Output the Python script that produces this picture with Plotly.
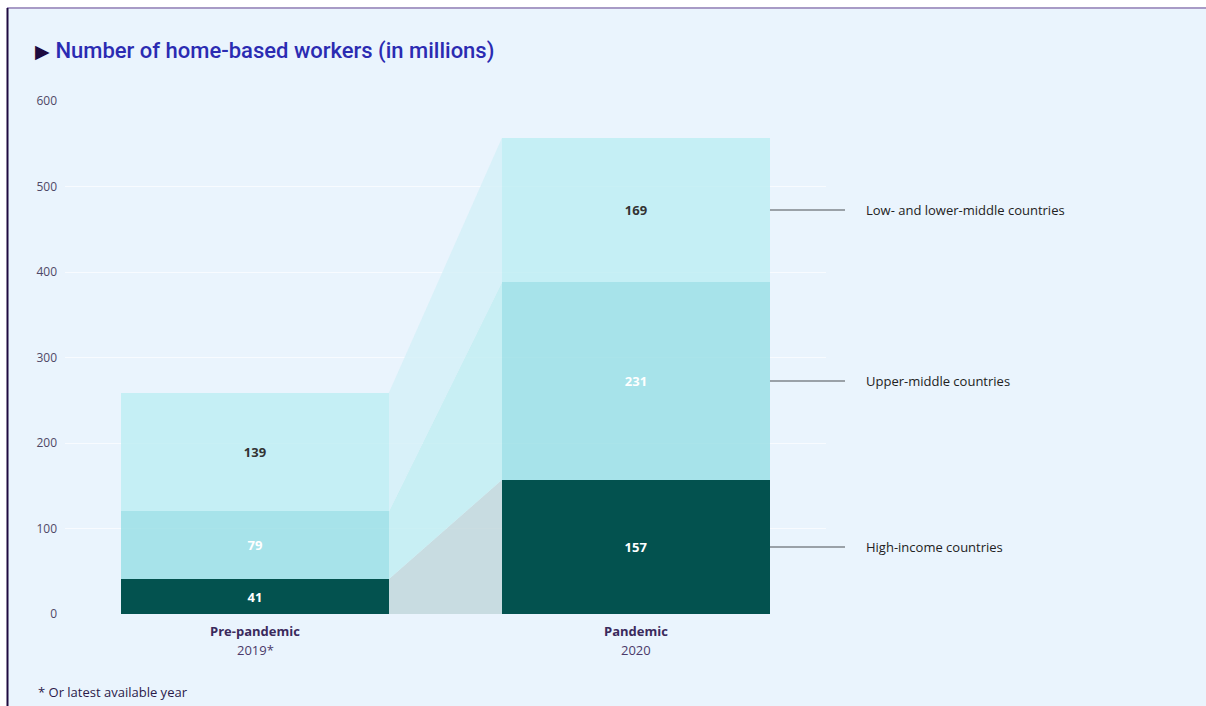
import plotly.graph_objects as go

# Data (millions of home-based workers)
periods = ["Pre-pandemic", "Pandemic"]
period_years = ["2019*", "2020"]
groups = ["High-income countries", "Upper-middle countries", "Low- and lower-middle countries"]
high_income = [41, 157]
upper_middle = [79, 231]
low_lower_middle = [139, 169]
y_ticks = [0, 100, 200, 300, 400, 500, 600]

series = [high_income, upper_middle, low_lower_middle]
bar_colors = ["#03524F", "rgba(150,223,229,0.8)", "rgba(188,238,243,0.8)"]
band_colors = ["rgba(191,214,217,0.8)", "rgba(191,237,241,0.8)", "rgba(211,240,247,0.8)"]
label_colors = ["#FFFFFF", "#FFFFFF", "#333333"]

BG = "#EAF4FD"
W, H = 1206, 706
L, R, T, B = 65, 380, 101, 92
bar_w = 0.7034
x_pos = [0, 1]
x_range = [-0.4987, 1.4987]

fig = go.Figure()

# Connector bands between the two stacked bars
cum_prev = [0, 0]
for vals, col in zip(series, band_colors):
    lo = cum_prev[:]
    hi = [lo[0] + vals[0], lo[1] + vals[1]]
    xa = x_pos[0] + bar_w / 2
    xb = x_pos[1] - bar_w / 2
    fig.add_trace(go.Scatter(
        x=[xa, xb, xb, xa, xa],
        y=[lo[0], lo[1], hi[1], hi[0], lo[0]],
        fill="toself", fillcolor=col, mode="lines",
        line=dict(width=0), hoverinfo="skip", showlegend=False))
    cum_prev = hi

# Stacked bars
for name, vals, col, tc in zip(groups, series, bar_colors, label_colors):
    fig.add_trace(go.Bar(
        x=x_pos, y=vals, name=name, width=bar_w,
        marker=dict(color=col, line=dict(width=0)),
        text=[f"<b>{v}</b>" for v in vals], textposition="inside",
        insidetextanchor="middle", textangle=0,
        textfont=dict(family="Open Sans", size=13, color=tc),
        constraintext="none", hoverinfo="skip", showlegend=False))

plot_w = W - L - R
plot_h = H - T - B


def px_to_paper_x(px):
    return (px - L) / plot_w


def px_to_paper_y(py):
    return (H - B - py) / plot_h


def data_to_paper_x(xv):
    return (xv - x_range[0]) / (x_range[1] - x_range[0])


shapes = [
    # card background with frame lines
    dict(type="rect", xref="paper", yref="paper",
         x0=px_to_paper_x(7), x1=px_to_paper_x(W + 5),
         y0=px_to_paper_y(H + 5), y1=px_to_paper_y(8),
         fillcolor=BG, line=dict(width=0), layer="below"),
    dict(type="line", xref="paper", yref="paper",
         x0=px_to_paper_x(7), x1=px_to_paper_x(W + 5),
         y0=px_to_paper_y(8), y1=px_to_paper_y(8),
         line=dict(color="#A89BC6", width=2), layer="below"),
    dict(type="line", xref="paper", yref="paper",
         x0=px_to_paper_x(7.5), x1=px_to_paper_x(7.5),
         y0=px_to_paper_y(H + 5), y1=px_to_paper_y(8),
         line=dict(color="#1E0A40", width=2), layer="below"),
]

annotations = []
# Leader lines and labels for each group, at the middle of the pandemic segments
cum = 0
bar_right = data_to_paper_x(x_pos[1] + bar_w / 2)
for name, vals in zip(groups, series):
    mid = cum + vals[1] / 2
    cum += vals[1]
    shapes.append(dict(type="line", xref="paper", yref="y",
                       x0=bar_right, x1=px_to_paper_x(845), y0=mid, y1=mid,
                       line=dict(color="#9AA1A8", width=2)))
    annotations.append(dict(xref="paper", yref="y", x=px_to_paper_x(864), y=mid,
                            text=name, showarrow=False, xanchor="left", yanchor="middle",
                            font=dict(family="Open Sans", size=13, color="#222222")))

# Category labels under the bars
for xv, p, yr in zip(x_pos, periods, period_years):
    annotations.append(dict(xref="x", yref="paper", x=xv, y=px_to_paper_y(631),
                            text=f"<b>{p}</b>", showarrow=False, yanchor="middle",
                            font=dict(family="Open Sans", size=13, color="#3A2A5C")))
    annotations.append(dict(xref="x", yref="paper", x=xv, y=px_to_paper_y(650),
                            text=yr, showarrow=False, yanchor="middle",
                            font=dict(family="Open Sans", size=13, color="#4A3A6A")))

# Title
annotations.append(dict(xref="paper", yref="paper", x=px_to_paper_x(33), y=px_to_paper_y(51),
                        text="<span style='color:#1D0B3F;font-size:19px'>▶</span> "
                             "Number of home-based workers (in millions)",
                        showarrow=False, xanchor="left", yanchor="middle",
                        font=dict(family="Roboto", size=22, weight=500, color="#2B2BB2")))
# Footnote
annotations.append(dict(xref="paper", yref="paper", x=px_to_paper_x(36), y=px_to_paper_y(692),
                        text="* Or latest available year", showarrow=False,
                        xanchor="left", yanchor="middle",
                        font=dict(family="Open Sans", size=13, color="#2A1A4A")))

fig.update_layout(
    width=W, height=H,
    margin=dict(l=L, r=R, t=T, b=B, pad=0),
    paper_bgcolor="#FFFFFF", plot_bgcolor="rgba(0,0,0,0)",
    barmode="stack", bargap=0,
    shapes=shapes, annotations=annotations,
    xaxis=dict(range=x_range, tickmode="array", tickvals=x_pos, showticklabels=False,
               showgrid=False, zeroline=False, showline=False, ticks="",
               fixedrange=True),
    yaxis=dict(range=[0, 600], tickmode="array", tickvals=y_ticks,
               showgrid=True, gridcolor="#F8FBFF", gridwidth=1, zeroline=False,
               showline=False, ticks="", ticklabelstandoff=7,
               tickfont=dict(family="Open Sans", size=12, color="#4F4866"),
               fixedrange=True),
    font=dict(family="Open Sans"),
)

fig.write_html("out.html", config={"displayModeBar": False})
